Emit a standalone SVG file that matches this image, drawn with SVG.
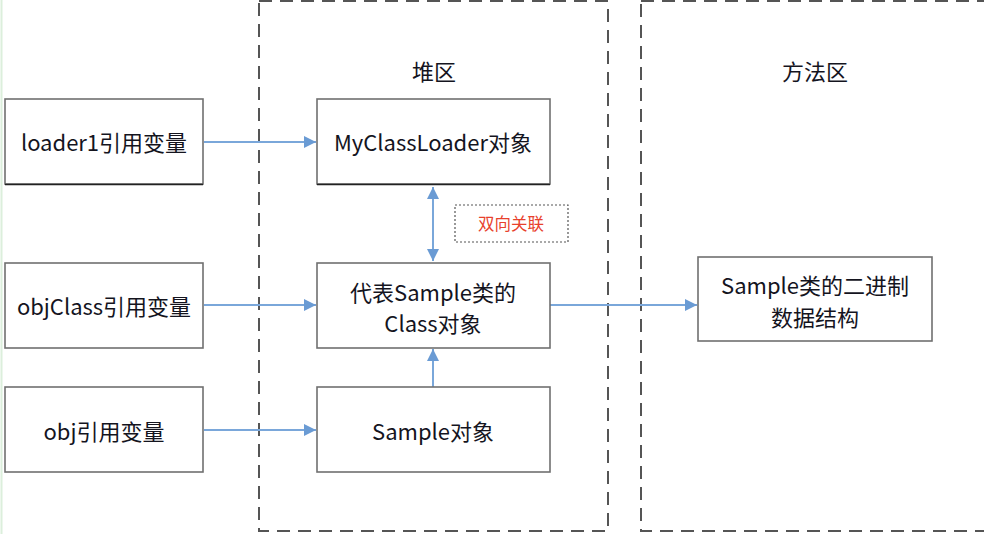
<svg xmlns="http://www.w3.org/2000/svg" width="984" height="534" viewBox="0 0 984 534">
<defs>
<style>
.box{fill:#fff;stroke:#707070;stroke-width:1.6}
.shadow{stroke:#222;stroke-width:1.6}
.t{font-family:"Noto Sans CJK SC","Noto Sans",sans-serif;font-size:22px;fill:#14141e;text-anchor:middle;dominant-baseline:central}
.area{fill:none;stroke:#555;stroke-width:2;stroke-dasharray:13 8}
.conn{stroke:#7aa7da;stroke-width:2;fill:none}
</style>
<marker id="ah" viewBox="0 0 10 10" refX="10" refY="5" markerWidth="12" markerHeight="12" markerUnits="userSpaceOnUse" orient="auto-start-reverse">
<path d="M0,0 L10,5 L0,10 z" fill="#6a9bd4"/>
</marker>
</defs>
<rect x="0" y="0" width="984" height="534" fill="#fff"/>
<line x1="1.5" y1="0" x2="1.5" y2="534" stroke="#dcefdc" stroke-width="2"/>

<g id="heap-area">
<rect class="area" x="259" y="1" width="349" height="530"/>
<text class="t" x="434" y="70">堆区</text>
</g>
<g id="method-area">
<rect class="area" x="641" y="1" width="360" height="530"/>
<text class="t" x="815" y="70">方法区</text>
</g>

<g id="connectors">
<line class="conn" x1="204" y1="142" x2="316" y2="142" marker-end="url(#ah)"/>
<line class="conn" x1="204" y1="305" x2="316" y2="305" marker-end="url(#ah)"/>
<line class="conn" x1="204" y1="430" x2="316" y2="430" marker-end="url(#ah)"/>
<line class="conn" x1="433" y1="187" x2="433" y2="261" marker-start="url(#ah)" marker-end="url(#ah)"/>
<line class="conn" x1="433" y1="387" x2="433" y2="349" marker-end="url(#ah)"/>
<line class="conn" x1="550" y1="305" x2="697" y2="305" marker-end="url(#ah)"/>
</g>

<g id="loader1">
<rect class="box" x="5" y="99" width="198" height="85"/>
<line class="shadow" x1="5" y1="184.5" x2="203" y2="184.5"/>
<text class="t" x="104" y="141">loader1引用变量</text>
</g>
<g id="objClass">
<rect class="box" x="5" y="263" width="198" height="85"/>
<text class="t" x="104" y="305">objClass引用变量</text>
</g>
<g id="obj">
<rect class="box" x="5" y="387" width="198" height="85"/>
<text class="t" x="104" y="430">obj引用变量</text>
</g>
<g id="myclassloader">
<rect class="box" x="317" y="99" width="233" height="85"/>
<line class="shadow" x1="317" y1="184.5" x2="550" y2="184.5"/>
<text class="t" x="433" y="141">MyClassLoader对象</text>
</g>
<g id="classobj">
<rect class="box" x="317" y="263" width="233" height="85"/>
<text class="t" x="433" y="291">代表Sample类的</text>
<text class="t" x="433" y="322">Class对象</text>
</g>
<g id="sampleobj">
<rect class="box" x="317" y="387" width="233" height="85"/>
<text class="t" x="433" y="430">Sample对象</text>
</g>
<g id="binary">
<rect class="box" x="698" y="257" width="234" height="84" stroke="#333"/>
<text class="t" x="815" y="284">Sample类的二进制</text>
<text class="t" x="815" y="316">数据结构</text>
</g>
<g id="label-bidir">
<rect x="455" y="205" width="113" height="37" fill="#fff" stroke="#555" stroke-width="1.2" stroke-dasharray="2 2"/>
<text x="511" y="223" font-family="Noto Sans CJK SC, sans-serif" font-size="16.5" fill="#e8412c" text-anchor="middle" dominant-baseline="central">双向关联</text>
</g>
</svg>
